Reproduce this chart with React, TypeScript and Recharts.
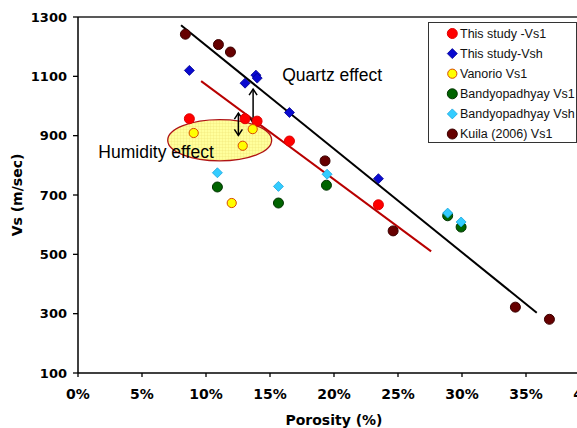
import React from 'react';
import {
  ScatterChart, Scatter, XAxis, YAxis, ReferenceLine, ReferenceArea, ReferenceDot, Legend,
} from 'recharts';

// porosity as fraction, Vs in m/sec
const xTicks = [0, 0.05, 0.1, 0.15, 0.2, 0.25, 0.3, 0.35, 0.4];
const yTicks = [100, 300, 500, 700, 900, 1100, 1300];

const thisStudyVs1 = [
  { p: 0.087, vs: 957 }, { p: 0.1305, vs: 957 }, { p: 0.1399, vs: 949 },
  { p: 0.1652, vs: 882 }, { p: 0.2347, vs: 667 },
];
const thisStudyVsh = [
  { p: 0.087, vs: 1120 }, { p: 0.1305, vs: 1077 }, { p: 0.139, vs: 1104 },
  { p: 0.14, vs: 1094 }, { p: 0.1652, vs: 978 }, { p: 0.2347, vs: 755 },
];
const vanorioVs1 = [
  { p: 0.0904, vs: 909 }, { p: 0.1365, vs: 922 }, { p: 0.1287, vs: 866 }, { p: 0.1201, vs: 673 },
];
const bandyoVs1 = [
  { p: 0.1089, vs: 727 }, { p: 0.1566, vs: 673 }, { p: 0.1941, vs: 733 },
  { p: 0.2888, vs: 630 }, { p: 0.2993, vs: 592 },
];
const bandyoVsh = [
  { p: 0.1089, vs: 775 }, { p: 0.1566, vs: 729 }, { p: 0.1946, vs: 770 },
  { p: 0.2888, vs: 639 }, { p: 0.2993, vs: 609 },
];
const kuilaVs1 = [
  { p: 0.0839, vs: 1242 }, { p: 0.1097, vs: 1207 }, { p: 0.1191, vs: 1182 },
  { p: 0.193, vs: 815 }, { p: 0.2462, vs: 579 }, { p: 0.3417, vs: 322 }, { p: 0.3683, vs: 281 },
];

// trend lines and annotations
const quartzTrend = [{ x: 0.0805, y: 1272 }, { x: 0.3584, y: 303 }];
const humidityTrend = [{ x: 0.0962, y: 1084 }, { x: 0.2759, y: 510 }];
const quartzArrow = [{ x: 0.1368, y: 1057 }, { x: 0.1368, y: 943 }];
const humidityArrow = [{ x: 0.1253, y: 976 }, { x: 0.1253, y: 901 }];
const humidityEllipse = { x1: 0.0701, x2: 0.1513, y1: 815, y2: 954 };

const circle = (fill: string, stroke: string, r = 5) => (props: any) => (
  <circle cx={props.cx} cy={props.cy} r={r} fill={fill} stroke={stroke} strokeWidth={1} />
);
const diamond = (fill: string, stroke: string, h = 5) => (props: any) => {
  const { cx, cy } = props;
  return (
    <polygon
      points={`${cx},${cy - h} ${cx + h},${cy} ${cx},${cy + h} ${cx - h},${cy}`}
      fill={fill} stroke={stroke} strokeWidth={0.8}
    />
  );
};

const series = [
  { name: 'This study -Vs1', data: thisStudyVs1, shape: circle('#ff0000', '#e00000') },
  { name: 'This study-Vsh', data: thisStudyVsh, shape: diamond('#0a0ad0', '#000090') },
  { name: 'Vanorio Vs1', data: vanorioVs1, shape: circle('#ffff00', '#d84a00', 4.6) },
  { name: 'Bandyopadhyay Vs1', data: bandyoVs1, shape: circle('#006400', '#003300') },
  { name: 'Bandyopadhyay Vsh', data: bandyoVsh, shape: diamond('#33ccff', '#1aa6dd') },
  { name: 'Kuila (2006) Vs1', data: kuilaVs1, shape: circle('#660000', '#3a0000') },
];

const arrowShape = (props: any) => {
  const { x1, y1, x2, y2 } = props;
  return (
    <g stroke="#000" strokeWidth={1.5} fill="none">
      <line x1={x1} y1={y1} x2={x2} y2={y2} />
      <polyline points={`${x1 - 4},${y1 + 6} ${x1},${y1} ${x1 + 4},${y1 + 6}`} />
      <polyline points={`${x2 - 4},${y2 - 6} ${x2},${y2} ${x2 + 4},${y2 - 6}`} />
    </g>
  );
};

const ellipseShape = (props: any) => {
  const { x, y, width, height } = props;
  return (
    <g>
      <defs>
        <pattern id="hatch" width="3" height="3" patternUnits="userSpaceOnUse">
          <rect width="3" height="3" fill="#ffff9c" />
          <path d="M0 0 H3 M0 0 V3" stroke="#ede070" strokeWidth="0.6" />
        </pattern>
      </defs>
      <ellipse
        cx={x + width / 2} cy={y + height / 2} rx={width / 2} ry={height / 2}
        fill="url(#hatch)" stroke="#b01414" strokeWidth={1.3}
      />
    </g>
  );
};

const note = (text: string) => (props: any) => (
  <text
    x={props.cx} y={props.cy} dominantBaseline="central" fill="#000"
    fontSize={17.5} fontFamily="'Liberation Sans', Arial, sans-serif"
  >
    {text}
  </text>
);

const YLabel = (props: any) => {
  const vb = props.viewBox || { x: 0, y: 17, width: 78, height: 356 };
  const cx = vb.x + 17;
  const cy = vb.y + vb.height / 2;
  return (
    <text
      x={cx} y={cy} transform={`rotate(-90 ${cx} ${cy})`} textAnchor="middle" dominantBaseline="central"
      fill="#000" fontSize={14} fontWeight="bold" fontFamily="'DejaVu Sans', Verdana, sans-serif"
    >
      Vs (m/sec)
    </text>
  );
};

const renderLegend = () => (
  <svg width={149} height={121} style={{ display: 'block', background: '#fff' }}>
    <rect x={0.5} y={0.5} width={148} height={120} fill="#fff" stroke="#333" strokeWidth={1} />
    {series.map((s, i) => {
      const cy = 11.5 + i * 20.1;
      return (
        <g key={s.name}>
          {s.shape({ cx: 24.3, cy })}
          <text
            x={32} y={cy} dominantBaseline="central" fill="#111" fontSize={12.5}
            fontFamily="'Liberation Sans', Arial, sans-serif"
          >
            {s.name}
          </text>
        </g>
      );
    })}
  </svg>
);

export default function App() {
  const tickFont = { fill: '#000', fontSize: 14, fontWeight: 'bold', fontFamily: "'DejaVu Sans', Verdana, sans-serif" };
  return (
    <div style={{ position: 'absolute', left: 0, top: 0, width: 577, height: 428, overflow: 'hidden', background: '#fff' }}>
      <ScatterChart width={620} height={428} margin={{ top: 17, right: 30, bottom: 0, left: 0 }}>
        <XAxis
          type="number" dataKey="p" domain={[0, 0.4]} ticks={xTicks} interval={0} allowDataOverflow
          tickFormatter={(v: number) => `${Math.round(v * 100)}%`}
          tick={{ ...tickFont, fontSize: 14 }} tickSize={4} tickMargin={12} height={55}
          axisLine={{ stroke: '#000', strokeWidth: 1.5 }} tickLine={{ stroke: '#000', strokeWidth: 1.3 }}
          label={{ value: 'Porosity (%)', position: 'insideBottom', offset: 3, ...tickFont }}
        />
        <YAxis
          type="number" dataKey="vs" domain={[100, 1300]} ticks={yTicks} interval={0} allowDataOverflow
          tick={{ ...tickFont, fontSize: 13 }} tickSize={5} tickMargin={6} width={78}
          axisLine={{ stroke: '#000', strokeWidth: 1.5 }} tickLine={{ stroke: '#000', strokeWidth: 1.3 }}
          label={<YLabel />}
        />
        <ReferenceLine y={1300} stroke="#222" strokeWidth={1.3} />
        <ReferenceArea
          x1={humidityEllipse.x1} x2={humidityEllipse.x2} y1={humidityEllipse.y1} y2={humidityEllipse.y2}
          shape={ellipseShape}
        />
        <ReferenceLine segment={humidityTrend} stroke="#b80000" strokeWidth={2} ifOverflow="visible" />
        <ReferenceLine segment={quartzTrend} stroke="#000" strokeWidth={2} ifOverflow="visible" />
        {series.map((s) => (
          <Scatter key={s.name} name={s.name} data={s.data} shape={s.shape} isAnimationActive={false} />
        ))}
        <ReferenceLine segment={quartzArrow} shape={arrowShape} ifOverflow="visible" />
        <ReferenceLine segment={humidityArrow} shape={arrowShape} ifOverflow="visible" />
        <ReferenceDot x={0.1595} y={1103} r={0} shape={note('Quartz effect')} ifOverflow="visible" />
        <ReferenceDot x={0.0159} y={845} r={0} shape={note('Humidity effect')} ifOverflow="visible" />
        <Legend
          content={renderLegend} layout="horizontal" verticalAlign="middle" align="center"
          wrapperStyle={{ position: 'absolute', left: 428, top: 22, width: 149, height: 121 }}
        />
      </ScatterChart>
    </div>
  );
}
